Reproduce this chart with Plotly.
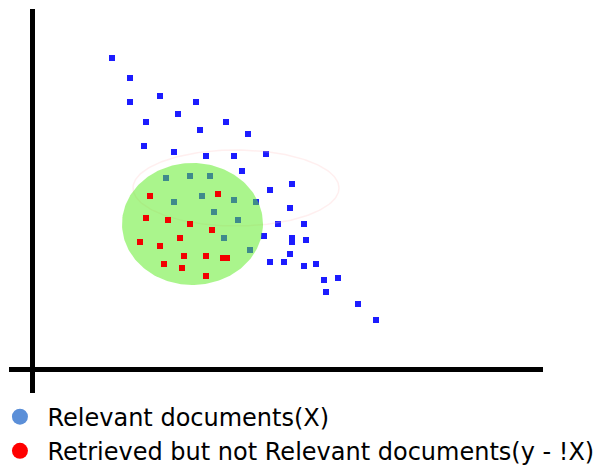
import numpy as np
import plotly.graph_objects as go

# Relevant documents (blue), in units measured from the axes' origin
relevant_x = [80, 98, 98, 128, 164, 146, 114, 194, 168, 216, 112, 142, 174, 202, 234, 210,
              260, 238, 224, 258, 246, 272, 232, 260, 260, 274, 258, 238, 252, 272, 284,
              292, 306, 294, 326, 344,
              134, 158, 178, 142, 170, 202, 182, 206, 192, 218]
relevant_y = [311, 291, 267, 273, 267, 255, 247, 247, 239, 235, 223, 217, 213, 213, 215, 198,
              185, 179, 167, 161, 145, 145, 133, 131, 127, 129, 115, 107, 107, 103, 105,
              89, 91, 77, 65, 49,
              191, 193, 193, 167, 173, 169, 157, 149, 131, 119]

# Retrieved but not relevant documents (red)
retrieved_x = [118, 186, 114, 136, 158, 180, 108, 128, 148, 152, 174, 191, 195, 132, 150, 174]
retrieved_y = [173, 175, 151, 149, 145, 139, 127, 123, 131, 113, 113, 111, 111, 105, 101, 93]

# Retrieved set region (ellipse) and faint outline ellipse
retrieved_center = (160.5, 145)
retrieved_radii = (70.5, 61)
outline_center = (204, 181)
outline_radii = (103, 38)

legend_labels = ["Relevant documents(X)", "Retrieved but not Relevant documents(y - !X)"]

t = np.linspace(0, 2 * np.pi, 200)

fig = go.Figure()

fig.add_trace(go.Scatter(
    x=relevant_x, y=relevant_y, mode="markers",
    marker=dict(symbol="square", size=6, color="#1c1cff", line=dict(width=0)),
    showlegend=False, hoverinfo="skip"))

fig.add_trace(go.Scatter(
    x=outline_center[0] + outline_radii[0] * np.cos(t),
    y=outline_center[1] + outline_radii[1] * np.sin(t),
    mode="lines", line=dict(color="rgba(255,190,190,0.25)", width=1.5),
    showlegend=False, hoverinfo="skip"))

fig.add_trace(go.Scatter(
    x=retrieved_center[0] + retrieved_radii[0] * np.cos(t),
    y=retrieved_center[1] + retrieved_radii[1] * np.sin(t),
    mode="lines", fill="toself", fillcolor="rgba(94,236,38,0.53)",
    line=dict(width=0, color="rgba(0,0,0,0)"),
    showlegend=False, hoverinfo="skip"))

fig.add_trace(go.Scatter(
    x=retrieved_x, y=retrieved_y, mode="markers",
    marker=dict(symbol="square", size=6, color="#f20000", line=dict(width=0)),
    showlegend=False, hoverinfo="skip"))

# Legend entries
fig.add_trace(go.Scatter(x=[None], y=[None], mode="markers", name=legend_labels[0],
                         marker=dict(symbol="circle", size=18, color="#5b8fd8")))
fig.add_trace(go.Scatter(x=[None], y=[None], mode="markers", name=legend_labels[1],
                         marker=dict(symbol="circle", size=18, color="#ff0000")))

fig.update_layout(
    width=594, height=459,
    margin=dict(l=1, r=59, t=1, b=74, autoexpand=False),
    paper_bgcolor="white", plot_bgcolor="white",
    xaxis=dict(type="linear", range=[-23, 511], showgrid=False, showticklabels=False, ticks="",
               zeroline=True, zerolinecolor="black", zerolinewidth=5, showline=False, fixedrange=True),
    yaxis=dict(type="linear", range=[-24, 360], showgrid=False, showticklabels=False, ticks="",
               zeroline=True, zerolinecolor="black", zerolinewidth=5, showline=False, fixedrange=True),
    legend=dict(x=-0.031, y=-0.004, xanchor="left", yanchor="top",
                font=dict(family="DejaVu Sans", size=24, color="black"),
                bgcolor="rgba(0,0,0,0)", itemwidth=45, tracegroupgap=0),
    font=dict(family="DejaVu Sans"),
)

fig.write_html("out.html")
